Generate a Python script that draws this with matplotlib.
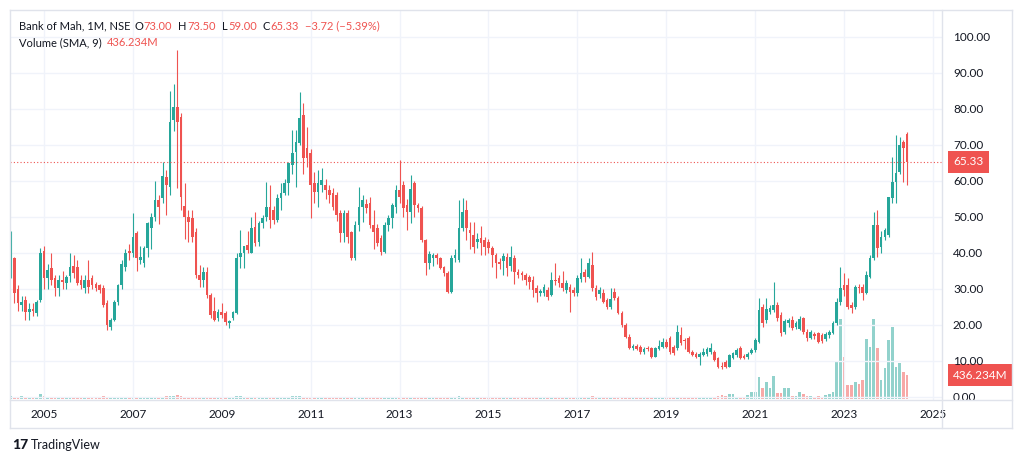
import numpy as np
import matplotlib
matplotlib.use('Agg')
import matplotlib.pyplot as plt
import matplotlib.transforms as mtransforms
from matplotlib.lines import Line2D

plt.rcParams['font.family'] = ['Lato', 'DejaVu Sans']

# monthly candles, first one = April 2004, last one = June 2024
start_year = 2004
start_month = 4

opens = [
    34, 38.5, 30, 25.5, 27, 23.5, 24.5, 23.3, 27,
    40.5, 33, 35.8, 33, 30.3, 32.5, 31.7, 33.5, 36.5, 36, 32.5, 30.3,
    32.5, 33, 31.5, 31, 30.3, 26, 19.5, 21.4, 26.4, 31, 36, 40.5,
    40, 45.5, 38, 37.2, 41.4, 47, 50, 54.7, 55.3, 61, 58.3, 77,
    80.5, 77.8, 53, 50.1, 49.7, 45.8, 33.9, 32.5, 34.7, 28.3, 24, 22,
    23.6, 23.3, 20.5, 22, 23.3, 39, 40, 42.2, 40, 47.2, 43, 48.3,
    50, 52.8, 51.9, 49.2, 55.3, 56.7, 59.4, 64.4, 68, 70.6, 78.3, 69.2,
    67.8, 59.4, 57, 59, 58.9, 57.5, 56.7, 56, 51, 45.5, 51, 45.8,
    38.6, 47.8, 52.8, 53.5, 53.9, 47.8, 46.9, 44.2, 40.3, 47.8, 49.7, 52.8,
    57.5, 58.9, 53.3, 51.4, 59.4, 53.3, 52.5, 43.6, 37.2, 38.6, 39.4, 38.6,
    36, 34.4, 29.2, 38.6, 38, 47, 51.9, 46.4, 45, 43, 44.2, 43.6,
    43.1, 41.4, 39.4, 37.5, 37.8, 39, 36.4, 38.6, 34.8, 34.5, 33.9, 33.4,
    32.5, 30.3, 28.9, 28.8, 29.7, 28.3, 32.5, 33, 31.7, 29.7, 30.6, 29.7,
    28.8, 32.9, 34.8, 33.4, 36.7, 30.3, 28.5, 28.9, 26.9, 25.1, 29.3, 27.5,
    23.3, 20, 16.8, 13.6, 14.2, 13.9, 12.6, 13.6, 13.6, 11.2, 13.3, 13.9,
    15.3, 16.4, 14, 13.6, 17.2, 15.8, 16.4, 12.6, 12, 11.2, 11.8, 12,
    12.5, 12.6, 10.8, 8.6, 9.8, 8.4, 10.8, 11.7, 13.6, 11.4, 11, 12.2,
    13, 15.3, 25, 21.4, 23.6, 24.2, 25.6, 22.8, 18, 20.6, 21.4, 19.4,
    19, 21.9, 18, 16.4, 17.4, 17.8, 17.2, 16, 17.2, 17.8, 20.6, 26.4,
    31.1, 31.1, 25.6, 25, 30.6, 30.6, 28.9, 33.3, 38.6, 47.8, 41.7, 44.4,
    45, 55.3, 59.7, 62.5, 70.8, 73,
]
highs = [
    46, 39, 31, 28, 28, 26, 26, 27, 41.5,
    42, 37, 40, 34, 34, 35, 34, 40, 39.4, 38, 34, 34,
    38, 34, 32, 31.5, 31, 27, 22, 27, 31.5, 38, 41, 42.5,
    51, 46, 42, 42, 48.5, 51, 60, 56, 65.3, 63, 85, 87,
    96.4, 79, 59.4, 52, 52, 47, 36.7, 36, 36, 29, 27.9, 24.5,
    26, 24, 21.5, 24, 40, 46.4, 42, 46, 50, 51.4, 49, 50.5,
    59.7, 58.9, 53, 56.5, 59.4, 60.5, 65.3, 74.2, 74.2, 84.7, 81.7, 75,
    69, 62.5, 63, 63.5, 60.5, 59, 58, 57, 52, 52, 52, 46,
    49, 58.3, 56, 55, 55.5, 52, 48, 45, 48.5, 50.5, 54, 58.9,
    65.8, 60, 55, 61.7, 60, 54, 53, 44, 40.5, 40, 40, 39,
    36.5, 35, 39.5, 41, 54.7, 55.3, 54.7, 48.5, 48.5, 45.5, 47.5, 44.5,
    44, 42, 40, 38.5, 40, 40, 42, 39.5, 35.5, 35, 34.5, 34,
    33.5, 31, 30, 31.5, 30.5, 34.8, 37.1, 34, 35, 32.5, 31.5, 30.5,
    34, 38.6, 35.5, 38.6, 40.4, 31, 30.5, 30, 27.5, 30.3, 30.3, 28,
    24, 20.5, 17.5, 14.8, 14.8, 14.5, 13.8, 14.2, 14, 14, 15.8, 16.4,
    16, 16.9, 14.5, 20, 19.5, 16.4, 17, 13, 12.6, 12.6, 13.5, 14,
    15, 13, 11.2, 9.8, 10.2, 12, 12.5, 13.5, 14.2, 12, 12.5, 13.5,
    16.5, 27.5, 25.8, 27.5, 25.5, 32, 26.5, 23.5, 21.8, 22, 22.5, 21,
    22.5, 22.3, 19, 18.5, 18, 18, 17.8, 18, 18.5, 21, 27.5, 36.1,
    34.4, 33, 26.5, 31, 31.5, 31.5, 35, 39.5, 51.4, 51.9, 46, 47,
    55.6, 66.7, 72.8, 72.2, 71.5, 73.5,
]
lows = [
    33, 26, 24, 24, 21.5, 21.5, 22.5, 22.5, 26.5,
    30, 30, 31, 28, 28, 30, 30, 32, 33, 31, 30, 29,
    29, 30, 29.5, 29, 25, 18.5, 18.5, 21, 25.5, 30, 35, 38,
    39, 35, 37, 36, 39, 41, 49, 48, 54, 50.5, 56, 74,
    58, 52, 44, 43, 43, 33, 30.6, 30.6, 27.5, 22, 21, 21,
    22, 20, 19.2, 21.5, 23, 35.8, 35.8, 40, 40, 42, 42, 47,
    49, 47, 48, 48.5, 52, 56, 56, 62, 58.3, 70, 62, 63.9,
    49.7, 54, 52.8, 57, 55, 54, 52, 49, 43, 43, 42.8, 38,
    38, 46, 48.5, 51, 47, 41, 42, 39.5, 40, 46, 47, 51,
    54, 50, 46.4, 48.3, 50, 51.5, 43, 33.9, 35.5, 36.5, 37, 35.5,
    33.5, 29, 29, 37.5, 37.5, 46, 43.6, 41, 40, 41.5, 39.5, 39.5,
    40, 36, 33, 35.5, 34, 33.5, 35, 31.5, 33, 32.5, 31, 30,
    27.9, 26.5, 28, 28, 27, 28, 31, 30.5, 29.5, 29, 23.7, 28,
    28, 32, 32, 33, 29.5, 27, 27.5, 26, 24.5, 24.5, 27, 23,
    19.5, 16.5, 13.3, 13, 13, 12, 12, 12.8, 10.8, 11, 13, 13.5,
    13.5, 12, 11.8, 13, 14.5, 13.3, 12.3, 11.3, 10.8, 8.9, 11.3, 11.5,
    12, 10, 8, 7.8, 8, 8.2, 10.5, 11, 10.5, 10.5, 10.5, 12,
    12.5, 15, 19.5, 20.5, 23, 23.5, 21, 17, 17.5, 19.5, 18.5, 19,
    18.5, 17.5, 15.5, 16, 16, 15, 15, 15.5, 16.5, 17.5, 20, 25.5,
    28, 24.5, 23.3, 24.5, 29, 27, 28.5, 33, 38, 38.9, 40, 43.5,
    44.5, 54, 53.9, 62, 59.7, 59,
]
closes = [
    39, 29, 26, 26.5, 23.6, 24.5, 23.8, 26.4, 40,
    33, 35.3, 32.5, 30.3, 32.5, 32, 33.3, 36, 34.5, 31.7, 31.1, 32.5,
    30.5, 31, 30.3, 29.7, 25.6, 20, 21.4, 26.4, 31, 37, 40, 40,
    44.4, 38.6, 39, 41.4, 48.3, 50, 54.7, 52.8, 61.4, 59, 76.4, 80.5,
    76.4, 55.6, 50, 48.7, 44.4, 33.9, 32.5, 34.8, 28.3, 22.8, 21.4, 23.6,
    22.8, 20.8, 21, 23.6, 38.6, 40, 41.9, 40.8, 46.9, 42.8, 48.3, 49.7,
    52.8, 49.2, 49.2, 55.3, 56.7, 59.4, 65, 67.8, 70.8, 77.5, 66.4, 66.4,
    58.9, 57, 59.4, 60.3, 57.5, 56.1, 52.8, 50.5, 45.5, 51, 44.4, 38.6,
    47.8, 52.8, 54.7, 52.5, 47.8, 45.8, 42.8, 40.3, 47.8, 49.7, 53.3, 57.5,
    55.6, 52.5, 51.4, 57.8, 53.3, 52.5, 43.6, 37.2, 39.7, 39.4, 38.6, 35.8,
    34.4, 29.2, 38.6, 39.5, 47, 51.4, 46.9, 45.5, 41.7, 44, 42.8, 41.7,
    41.3, 39.4, 37.2, 37, 39.2, 35.8, 39, 34.7, 33.9, 34, 32.5, 32,
    29.7, 28.9, 29.4, 30.6, 27.9, 32.5, 32.1, 31.7, 30.3, 31.7, 29.3, 28.8,
    33.1, 34.4, 33.4, 37.2, 30.3, 27.9, 29.7, 26.5, 25.1, 27.1, 27.5, 23.3,
    20, 16.8, 13.6, 14.1, 13.3, 12.6, 13.3, 13.3, 11.2, 13.6, 14.1, 15.3,
    14, 12.5, 12.2, 18.1, 15, 15.5, 12.6, 11.7, 11.2, 12, 12.5, 13.3,
    13.6, 10.3, 8.4, 8.3, 8.4, 11.7, 12.2, 13, 10.8, 10.8, 12, 13,
    15.8, 24.2, 20.6, 24.4, 24.7, 25.6, 21.9, 17.8, 21, 21.4, 19.2, 20.6,
    21.7, 18, 16.4, 18, 17, 15.3, 15.5, 17.5, 18, 20.6, 26.4, 30.3,
    29.7, 25, 24.7, 30.5, 30.3, 28.9, 33.9, 38.6, 47.8, 41.4, 44.4, 46.4,
    55.6, 59.7, 62.2, 70, 69.05, 65.33,
]
# volume in millions of shares
volumes = [
    60, 45, 40, 50, 35, 40, 30, 45, 90,
    60, 40, 35, 45, 35, 30, 35, 40, 45, 35, 30, 40,
    45, 40, 35, 40, 55, 45, 35, 40, 45, 40, 35, 30,
    40, 35, 30, 35, 40, 45, 40, 35, 45, 55, 50, 60,
    70, 55, 40, 35, 40, 35, 45, 30, 35, 30, 35, 25,
    25, 25, 30, 35, 60, 50, 45, 40, 35, 45, 30, 40,
    35, 30, 35, 30, 40, 35, 45, 50, 60, 55, 40, 35,
    30, 30, 25, 30, 25, 25, 30, 25, 20, 25, 20, 20,
    30, 35, 25, 20, 20, 25, 20, 20, 30, 25, 20, 25,
    30, 25, 20, 20, 25, 20, 25, 20, 20, 20, 15, 20,
    20, 25, 40, 35, 50, 35, 30, 25, 30, 25, 25, 20,
    20, 25, 20, 25, 20, 20, 25, 30, 20, 20, 25, 20,
    20, 20, 25, 20, 25, 20, 25, 20, 25, 20, 25, 20,
    25, 30, 35, 40, 50, 35, 30, 25, 35, 30, 25, 30,
    35, 30, 40, 35, 30, 25, 20, 20, 25, 20, 20, 25,
    25, 20, 25, 20, 30, 25, 35, 30, 25, 30, 25, 30,
    45, 40, 60, 70, 55, 100, 100, 42, 42, 42, 73, 130,
    130, 400, 205, 315, 195, 420, 115, 115, 195, 195, 55, 55,
    130, 90, 55, 55, 42, 55, 42, 70, 100, 130, 700, 1450,
    760, 250, 250, 310, 270, 345, 1085, 950, 1455, 930, 345, 560,
    1075, 1315, 590, 660, 485, 436.234,
]
year_ticks = [2005, 2007, 2009, 2011, 2013, 2015, 2017, 2019, 2021, 2023, 2025]
price_ticks = [0, 10, 20, 30, 40, 50, 60, 70, 80, 90, 100]

UP = '#26a69a'
DOWN = '#ef5350'
TXT = '#131722'
GRID = '#f0f3fa'
BORDER = '#e0e3eb'

o = np.array(opens)
h = np.array(highs)
l = np.array(lows)
c = np.array(closes)
v = np.array(volumes)
x = start_year + (start_month - 1) / 12 + np.arange(len(c)) / 12
up = c >= o
cols = np.where(up, UP, DOWN)

W, H = 1024, 463
fig = plt.figure(figsize=(W / 100, H / 100), dpi=100)
fig.patch.set_facecolor('white')

# chart pane in pixel units: x 10..942, y 10..400 (from top)
ax = fig.add_axes([10 / W, (H - 400) / H, 932 / W, 390 / H])
ax.set_xlim(2005 - 34 / 44.45, 2005 + 898 / 44.45)
ax.set_ylim(-0.83, 107.5)

axv = ax.twinx()
axv.set_ylim(-18.2, 7080)
axv.set_zorder(0)
ax.set_zorder(1)
ax.patch.set_visible(False)

for t in price_ticks:
    ax.axhline(t, color=GRID, lw=1, zorder=0)
for t in year_ticks:
    ax.axvline(t, color=GRID, lw=1, zorder=0)

bw = 0.06
axv.bar(x, v, width=bw, color=np.where(up, '#92d2cc', '#f7a9a7'), zorder=1)

ax.vlines(x, l, h, colors=cols, lw=0.8, zorder=2)
body = np.maximum(np.abs(c - o), 0.25)
ax.bar(x, body, bottom=np.minimum(o, c), width=bw, color=cols, zorder=3)

ax.axhline(closes[-1], color=DOWN, lw=0.8, ls=(0, (1, 2)), zorder=4)

for a in (ax, axv):
    for s in a.spines.values():
        s.set_visible(False)
    a.tick_params(left=False, right=False, bottom=False, top=False,
                  labelleft=False, labelright=False)

ax.set_xticks(year_ticks)
ax.set_xticklabels([str(t) for t in year_ticks], fontsize=8.5, color=TXT)
ax.tick_params(axis='x', pad=3)
ax.set_yticks([])
axv.set_yticks([])

# price scale on the right
trans = mtransforms.blended_transform_factory(ax.transAxes, ax.transData)
for t in price_ticks:
    ax.text(1.0118, t, f'{t:.2f}', transform=trans, fontsize=8.5, color=TXT,
            va='center', ha='left', clip_on=False)
ax.text(1.0118, closes[-1], f'{closes[-1]:.2f}', transform=trans, fontsize=8.5,
        color='white', va='center', ha='left', clip_on=False, zorder=10,
        bbox=dict(boxstyle='square,pad=0.45', fc=DOWN, ec='none'))
vtrans = mtransforms.blended_transform_factory(axv.transAxes, axv.transData)
axv.text(1.0118, volumes[-1], f'{volumes[-1]:.3f}M', transform=vtrans,
         fontsize=8.5, color='white', va='center', ha='left', clip_on=False,
         zorder=10, bbox=dict(boxstyle='square,pad=0.45', fc=DOWN, ec='none'))

# frame lines
def pline(x0, y0, x1, y1):
    fig.add_artist(Line2D([x0 / W, x1 / W], [1 - y0 / H, 1 - y1 / H],
                          color=BORDER, lw=1, transform=fig.transFigure))

pline(10, 10, 1012, 10)
pline(10, 428, 1012, 428)
pline(10, 10, 10, 428)
pline(1012, 10, 1012, 428)
pline(10, 400, 1012, 400)
pline(942, 10, 942, 428)

# legend header, pieces laid out one after another
renderer = fig.canvas.get_renderer()

def text_row(px, py, parts, fs=8):
    for s, col, gap in parts:
        t = fig.text(px / W, 1 - py / H, s, fontsize=fs, color=col, va='center')
        px += t.get_window_extent(renderer).width + gap

chg = closes[-1] - closes[-2]
pct = chg / closes[-2] * 100
text_row(19, 26, [
    ('Bank of Mah, 1M, NSE', TXT, 4),
    ('O', TXT, 0.5), (f'{opens[-1]:.2f}', DOWN, 6),
    ('H', TXT, 0.5), (f'{highs[-1]:.2f}', DOWN, 6),
    ('L', TXT, 0.5), (f'{lows[-1]:.2f}', DOWN, 6),
    ('C', TXT, 0.5), (f'{closes[-1]:.2f}', DOWN, 6),
    (f'\u2212{abs(chg):.2f} (\u2212{abs(pct):.2f}%)', DOWN, 0),
])
text_row(19, 43, [
    ('Volume (SMA, 9)', TXT, 5),
    (f'{volumes[-1]:.3f}M', DOWN, 0),
])

# TradingView mark
fig.text(12 / W, 1 - 445 / H, '17', fontsize=10, fontweight='black', color=TXT,
         va='center')
fig.text(31 / W, 1 - 445 / H, 'TradingView', fontsize=9, color=TXT, va='center')

fig.savefig('out.png', dpi=100)
